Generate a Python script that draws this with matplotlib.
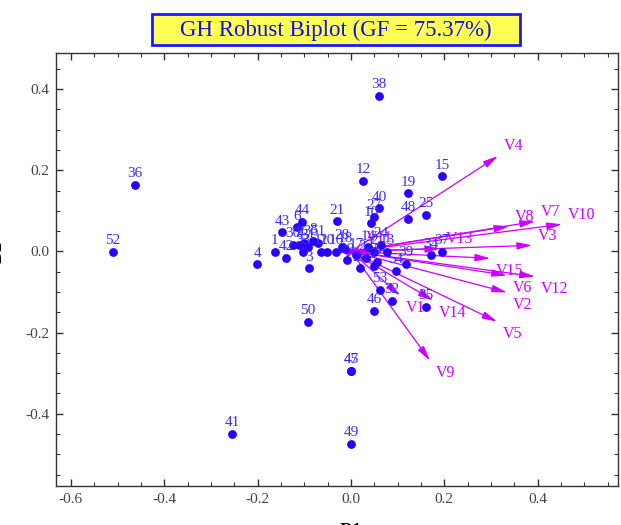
import matplotlib
matplotlib.use("Agg")
import matplotlib.pyplot as plt
from matplotlib.patches import Rectangle
from matplotlib.ticker import MultipleLocator, FormatStrFormatter

plt.rcParams['font.family'] = ['Liberation Serif', 'DejaVu Serif']

# individuals (row markers)
obs_labels = ['1', '3', '4', '6', '8', '10', '12', '13', '14', '15', '19', '21',
              '24', '25', '27', '30', '32', '34', '35', '36', '37', '38', '39', '40',
              '41', '42', '43', '44', '45', '47', '46', '48', '49', '50', '52', '53',
              '54', '33', '11', '20', '16', '18', '29', '2', '5', '7', '26', '17',
              '22', '28', '51', '9', '23', '31']
obs_x = [-0.163, -0.090, -0.201, -0.116, -0.081, 0.043, 0.026, 0.077, 0.036, 0.195,
         0.122, -0.030, 0.064, 0.161, 0.049, -0.124, 0.088, 0.171, 0.161, -0.463,
         0.195, 0.060, 0.118, 0.060, -0.255, -0.139, -0.148, -0.105, 0.000, 0.000,
         0.049, 0.122, 0.000, -0.092, -0.510, 0.062, 0.096, -0.103, -0.064, -0.051,
         -0.032, -0.013, -0.009, 0.049, 0.056, 0.049, 0.019, 0.011, 0.032, -0.019,
         -0.071, -0.111, -0.100, -0.092]
obs_y = [-0.002, -0.042, -0.032, 0.059, 0.025, 0.069, 0.173, -0.002, 0.010, 0.185,
         0.143, 0.074, 0.015, 0.091, 0.084, 0.015, -0.121, -0.010, -0.136, 0.163,
         -0.002, 0.383, -0.030, 0.106, -0.449, -0.015, 0.047, 0.072, -0.294, -0.294,
         -0.146, 0.081, -0.474, -0.173, -0.002, -0.094, -0.049, -0.002, -0.002, -0.002,
         -0.002, 0.005, -0.022, -0.002, -0.025, -0.035, -0.042, -0.010, -0.015, 0.012,
         0.022, 0.015, 0.020, 0.012]

# variables (column markers)
var_labels = ['V1', 'V2', 'V3', 'V4', 'V5', 'V6', 'V7', 'V8', 'V9', 'V10',
              'V11', 'V12', 'V13', 'V14', 'V15']
var_x = [0.105, 0.334, 0.388, 0.315, 0.313, 0.334, 0.394, 0.339, 0.169, 0.452,
         0.020, 0.394, 0.191, 0.176, 0.298]
var_y = [-0.109, -0.101, 0.015, 0.235, -0.173, -0.059, 0.074, 0.062, -0.269, 0.067,
         0.010, -0.062, 0.007, -0.121, -0.017]

pt_color = '#2a00ff'
lab_color = '#3b2cff'
var_color = '#cc00ff'

fig = plt.figure(figsize=(6.21, 5.25), dpi=100)
ax = fig.add_axes([56 / 621, 39 / 525, 562 / 621, 433 / 525])

# arrows for variables
for lab, x, y in zip(var_labels, var_x, var_y):
    ax.annotate('', xy=(x, y), xytext=(0, 0),
                arrowprops=dict(arrowstyle='-|>,head_length=0.9,head_width=0.22',
                                color=var_color, lw=0.9, shrinkA=0, shrinkB=0))
    dy = 7 if y > 0 else -9
    ax.annotate(lab, (x, y), xytext=(4, dy), textcoords='offset points',
                ha='left', va='center', color=var_color, fontsize=11.5)

# points
ax.scatter(obs_x, obs_y, s=40, color=pt_color, zorder=3, linewidths=0)
for lab, x, y in zip(obs_labels, obs_x, obs_y):
    ax.annotate(lab, (x, y), xytext=(0, 3.5), textcoords='offset points',
                ha='center', va='bottom', color=lab_color, fontsize=11)

ax.set_xlim(-0.632, 0.572)
ax.set_ylim(-0.578, 0.489)
ax.xaxis.set_major_locator(MultipleLocator(0.2))
ax.xaxis.set_minor_locator(MultipleLocator(0.05))
ax.yaxis.set_major_locator(MultipleLocator(0.2))
ax.yaxis.set_minor_locator(MultipleLocator(0.05))
ax.xaxis.set_major_formatter(FormatStrFormatter('%.1f'))
ax.yaxis.set_major_formatter(FormatStrFormatter('%.1f'))
ax.tick_params(which='both', direction='in', top=True, right=True,
               colors='#333333', labelcolor='#444444', labelsize=11)
ax.tick_params(which='major', length=5, width=1, pad=5)
ax.tick_params(which='minor', length=3, width=0.8)
for sp in ax.spines.values():
    sp.set_color('#333333')
    sp.set_linewidth(1)

# axis labels (partly cut off like the original)
fig.text(351 / 621, -0.012, 'D1', ha='center', va='center', fontsize=13,
         fontweight='bold')
fig.text(-0.004, 0.52, 'D2', ha='center', va='center', fontsize=13,
         fontweight='bold', rotation=90)

# boxed title
fig.patches.append(Rectangle((152 / 621, 1 - 45 / 525), 368 / 621, 31 / 525,
                             transform=fig.transFigure, facecolor='#ffff55',
                             edgecolor='#1a1aff', linewidth=2))
fig.text(336 / 621, 1 - 30 / 525, 'GH Robust Biplot (GF = 75.37%)',
         ha='center', va='center', fontsize=16.5, color='#1010e0')

fig.savefig('out.png', dpi=100)
